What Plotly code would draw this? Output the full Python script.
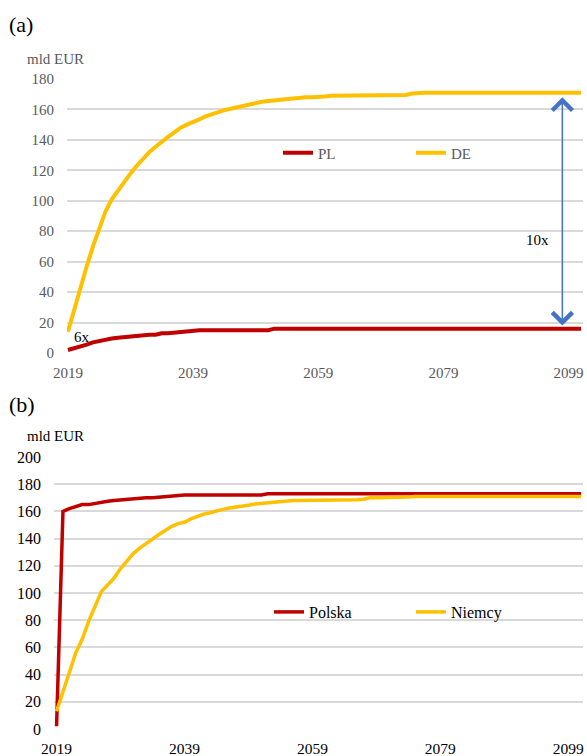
import plotly.graph_objects as go

# ---------------- data ----------------
years = list(range(2019, 2102))

# (a) PL and DE, mld EUR
pl = [2, 3, 4, 5.5, 7, 8, 8.5, 9.5, 10, 10.5, 11, 11, 11.5, 12, 12, 13, 13, 13.5, 14, 14,
      14.5, 15, 15, 15, 15, 15, 15, 15, 15, 15, 15, 15, 15, 16, 16, 16, 16, 16, 16, 16,
      16, 16, 16, 16, 16, 16, 16, 16, 16, 16, 16, 16, 16, 16, 16, 16, 16, 16, 16, 16,
      16, 16, 16, 16, 16, 16, 16, 16, 16, 16, 16, 16, 16, 16, 16, 16, 16, 16, 16, 16,
      16, 16, 16]

de = [14, 29, 43, 57, 70, 82, 93, 101, 107, 112, 118, 123, 128, 132, 135.5, 139, 142, 145, 148, 150,
      151.5, 153.5, 155.5, 157, 158, 159.5, 160.5, 161.5, 162.5, 163.5, 164, 165, 165.5, 166, 166.5, 167, 167, 167.5, 168, 168,
      168, 168.5, 169, 169, 169, 169, 169, 169, 169, 169, 169, 169, 169, 169, 169.5, 170.5, 171, 171, 171, 171,
      171, 171, 171, 171, 171, 171, 171, 171, 171, 171, 171, 171, 171, 171, 171, 171, 171, 171, 171, 171,
      171, 171, 171]

# (b) Polska and Niemcy, mld EUR
polska = [2, 160, 162, 163.5, 165, 165, 166, 166.5, 167.5, 168, 168.5, 169, 169.5, 170, 170, 170, 170.5, 171, 171.5, 172,
          172, 172, 172, 172, 172, 172, 172, 172, 172, 172, 172, 172, 172, 173, 173, 173, 173, 173, 173, 173,
          173, 173, 173, 173, 173, 173, 173, 173, 173, 173, 173, 173, 173, 173, 173, 173, 173, 173, 173, 173,
          173, 173, 173, 173, 173, 173, 173, 173, 173, 173, 173, 173, 173, 173, 173, 173, 173, 173, 173, 173,
          173, 173, 173]

niemcy = [13, 28, 42, 56, 66, 79, 90, 101, 106, 111, 118, 124, 129, 133, 136.5, 140, 143, 146, 149, 151,
          152, 154.5, 156.5, 158, 159, 160.5, 161.5, 162.5, 163, 164, 164.5, 165.5, 166, 166, 166.5, 167, 167.5, 168, 168, 168,
          168, 168.5, 168.5, 168.5, 168.5, 168.5, 168.5, 168.5, 169, 170, 170, 170, 170, 170, 170.5, 170.5, 171, 171, 171, 171,
          171, 171, 171, 171, 171, 171, 171, 171, 171, 171, 171, 171, 171, 171, 171, 171, 171, 171, 171, 171,
          171, 171, 171]

x_ticks = [2019, 2039, 2059, 2079, 2099]
y_ticks_a = [0, 20, 40, 60, 80, 100, 120, 140, 160, 180]
y_ticks_b = [0, 20, 40, 60, 80, 100, 120, 140, 160, 180, 200]

RED = "#C00000"
YEL = "#FFC000"
BLUE = "#4472C4"
GRID = "#D9D9D9"
GRAY = "#595959"
FONT = "Times New Roman, Liberation Serif, serif"

W, H = 587, 756

def px(x):
    return x / W

def py(y):
    return 1 - y / H

fig = go.Figure()

fig.add_trace(go.Scatter(x=years, y=pl, mode="lines", name="PL",
                         line=dict(color=RED, width=4), xaxis="x", yaxis="y", legend="legend"))
fig.add_trace(go.Scatter(x=years, y=de, mode="lines", name="DE",
                         line=dict(color=YEL, width=4), xaxis="x", yaxis="y", legend="legend"))
fig.add_trace(go.Scatter(x=years, y=polska, mode="lines", name="Polska",
                         line=dict(color=RED, width=3.5), xaxis="x2", yaxis="y2", legend="legend2"))
fig.add_trace(go.Scatter(x=years, y=niemcy, mode="lines", name="Niemcy",
                         line=dict(color=YEL, width=3.5), xaxis="x2", yaxis="y2", legend="legend2"))

axis_common = dict(showline=False, zeroline=False, ticks="", fixedrange=True, automargin=False)

fig.update_layout(
    width=W, height=H,
    margin=dict(l=0, r=0, t=0, b=0, autoexpand=False),
    paper_bgcolor="white", plot_bgcolor="white",
    font=dict(family=FONT, size=15, color="black"),
    xaxis=dict(domain=[px(67), px(583)], range=[2018.85, 2101.3], anchor="y",
               tickvals=x_ticks, ticktext=[str(t) for t in x_ticks], showgrid=False,
               tickfont=dict(color=GRAY, size=15), ticklabelstandoff=9, **axis_common),
    yaxis=dict(domain=[py(353), py(79)], range=[0, 180], anchor="x",
               tickvals=y_ticks_a, showgrid=True, gridcolor=GRID, gridwidth=1.5,
               tickfont=dict(color=GRAY, size=15), ticklabelstandoff=12, **axis_common),
    xaxis2=dict(domain=[px(54), px(583)], range=[2018.6, 2101.3], anchor="y2",
                tickvals=x_ticks, ticktext=[str(t) for t in x_ticks], showgrid=False,
                tickfont=dict(color="black", size=15.5), ticklabelstandoff=8, **axis_common),
    yaxis2=dict(domain=[py(729), py(457)], range=[0, 200], anchor="x2",
                tickvals=y_ticks_b, showgrid=True, gridcolor=GRID, gridwidth=1.5,
                tickfont=dict(color="black", size=16), ticklabelstandoff=12, **axis_common),
    legend=dict(orientation="h", x=px(278), y=py(153), xanchor="left", yanchor="middle",
                font=dict(color=GRAY, size=15), bgcolor="rgba(0,0,0,0)", entrywidth=88,
                entrywidthmode="pixels"),
    legend2=dict(orientation="h", x=px(269), y=py(612), xanchor="left", yanchor="middle",
                 font=dict(color="black", size=16), bgcolor="rgba(0,0,0,0)", entrywidth=97,
                 entrywidthmode="pixels"),
    showlegend=True,
)

# double-headed arrow between the two end levels
arrow_x = 2098
fig.add_annotation(x=arrow_x, y=de[-1] - 3, ax=arrow_x, ay=pl[-1] + 1,
                   xref="x", yref="y", axref="x", ayref="y", text="",
                   showarrow=True, arrowhead=4, startarrowhead=4, arrowside="end+start",
                   arrowsize=2.6, startarrowsize=2.6, arrowwidth=1.5, arrowcolor=BLUE)
fig.add_annotation(x=2094, y=74, xref="x", yref="y", text="10x", showarrow=False,
                   font=dict(size=15, color="black"))
fig.add_annotation(x=2021.3, y=10.5, xref="x", yref="y", text="6x", showarrow=False,
                   font=dict(size=15, color="black"))

# panel labels and units
fig.add_annotation(x=px(7), y=py(24), xref="paper", yref="paper", text="(a)", showarrow=False,
                   xanchor="left", yanchor="middle", font=dict(size=22, color="black"))
fig.add_annotation(x=px(7), y=py(404), xref="paper", yref="paper", text="(b)", showarrow=False,
                   xanchor="left", yanchor="middle", font=dict(size=22, color="black"))
fig.add_annotation(x=px(25), y=py(59), xref="paper", yref="paper", text="mld EUR", showarrow=False,
                   xanchor="left", yanchor="middle", font=dict(size=15, color=GRAY))
fig.add_annotation(x=px(25), y=py(436), xref="paper", yref="paper", text="mld EUR", showarrow=False,
                   xanchor="left", yanchor="middle", font=dict(size=15, color="black"))

# remove the default page margin so the figure fills the 587x756 window exactly
fig.write_html("out.html", config={"displayModeBar": False},
               post_script="document.body.style.margin='0px';document.body.style.overflow='hidden';")
